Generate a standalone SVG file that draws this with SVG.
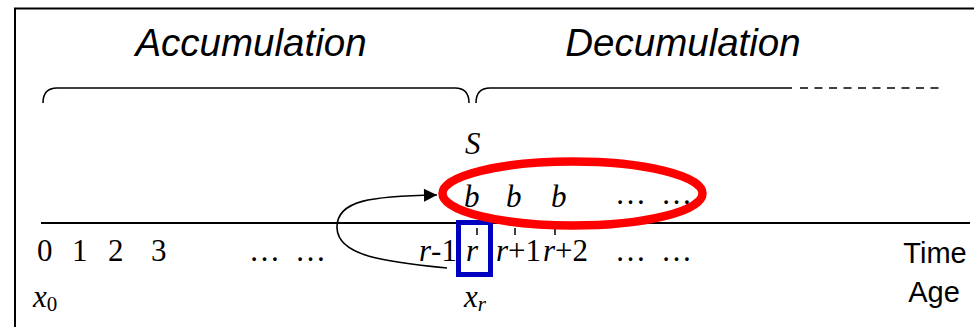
<svg xmlns="http://www.w3.org/2000/svg" width="974" height="327" viewBox="0 0 974 327">
<style>
.title{font-family:"Liberation Sans",Arial,sans-serif;font-style:italic;font-size:38.5px;fill:#000}
.sans{font-family:"Liberation Sans",Arial,sans-serif;font-size:29px;fill:#000}
.t{font-family:"Liberation Serif","Times New Roman",serif;font-size:31px;fill:#000}
.i{font-style:italic}
.ln{stroke:#000;fill:none;stroke-width:1.6}
</style>
<defs>
<marker id="ah" viewBox="0 0 10 10" refX="10" refY="5" markerWidth="16" markerHeight="13" markerUnits="userSpaceOnUse" orient="auto">
<path d="M0,0 L10,5 L0,10 z" fill="#000"/>
</marker>
</defs>
<rect width="974" height="327" fill="#fff"/>
<g id="frame">
<path d="M15,327 L15,8.5 L974,8.5" stroke="#000" stroke-width="2" fill="none"/>
</g>
<g id="accumulation">
<text class="title" x="251" y="56" text-anchor="middle">Accumulation</text>
<path class="ln" d="M43,103 C43,94 47,88 57,88 L455,88 C465,88 469,94 469,103"/>
</g>
<g id="decumulation">
<text class="title" x="683" y="56" text-anchor="middle">Decumulation</text>
<path class="ln" d="M476,103 C476,94 480,88 490,88 L792,88"/>
<path class="ln" d="M800,88 L940,88" stroke-dasharray="8 6.5"/>
</g>
<g id="timeline">
<line x1="41" y1="223" x2="970" y2="223" stroke="#000" stroke-width="2"/>
<line x1="477" y1="228" x2="477" y2="235" stroke="#000" stroke-width="1.5"/>
<line x1="515" y1="228" x2="515" y2="235" stroke="#000" stroke-width="1.5"/>
<line x1="555" y1="228" x2="555" y2="235" stroke="#000" stroke-width="1.5"/>
<text class="t" x="37" y="261">0</text>
<text class="t" x="72" y="261">1</text>
<text class="t" x="108" y="261">2</text>
<text class="t" x="151" y="261">3</text>
<text class="t" x="249" y="261">…</text>
<text class="t" x="295" y="261">…</text>
<text class="t" x="419" y="261"><tspan class="i">r</tspan>-1</text>
<text class="t" x="496" y="261"><tspan class="i">r</tspan>+1</text>
<text class="t" x="543" y="261"><tspan class="i">r</tspan>+2</text>
<text class="t" x="615" y="261">…</text>
<text class="t" x="661" y="261">…</text>
<text class="t" x="33" y="307"><tspan class="i">x</tspan><tspan font-size="21" dy="4">0</tspan></text>
<text class="t" x="464" y="307"><tspan class="i">x</tspan><tspan class="i" font-size="21" dy="4">r</tspan></text>
<text class="sans" x="935" y="263" text-anchor="middle">Time</text>
<text class="sans" x="934" y="302" text-anchor="middle">Age</text>
</g>
<g id="retirement">
<rect x="458.5" y="222.5" width="32" height="52" fill="none" stroke="#0000c0" stroke-width="5"/>
<text class="t i" x="466" y="261">r</text>
</g>
<g id="benefits">
<text class="t i" x="465" y="154">S</text>
<text class="t i" x="464" y="207">b</text>
<text class="t i" x="506" y="207">b</text>
<text class="t i" x="551" y="207">b</text>
<text class="t" x="615" y="204">…</text>
<text class="t" x="661" y="204">…</text>
<ellipse cx="572.5" cy="193.5" rx="130" ry="32" fill="none" stroke="#ff0000" stroke-width="8.5"/>
</g>
<g id="connectors">
<path class="ln" d="M447,268 C385,262 338,256 337,228 C336,200 372,196 437,195" marker-end="url(#ah)"/>
</g>
</svg>
